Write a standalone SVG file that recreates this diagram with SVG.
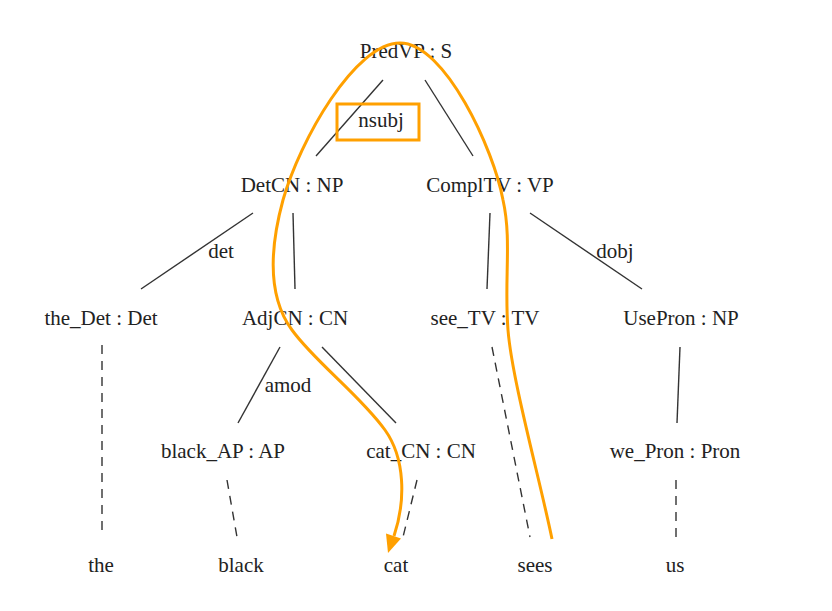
<svg xmlns="http://www.w3.org/2000/svg" width="832" height="611" viewBox="0 0 832 611">
<style>
text{font-family:"Liberation Serif","Times New Roman",serif;font-size:21px;fill:#222;text-anchor:middle}
.e{stroke:#333;stroke-width:1.4;fill:none}
.d{stroke:#333;stroke-width:1.4;fill:none;stroke-dasharray:9 7}
.o{stroke:#FFA000;stroke-width:3;fill:none}
</style>
<rect width="832" height="611" fill="#fff"/>
<g id="connectors">
<line class="e" x1="383" y1="80" x2="316" y2="156"/>
<line class="e" x1="425" y1="80" x2="473" y2="156"/>
<line class="e" x1="253" y1="213" x2="141" y2="289"/>
<line class="e" x1="293" y1="213" x2="295" y2="289"/>
<line class="e" x1="490" y1="213" x2="487" y2="289"/>
<line class="e" x1="530" y1="213" x2="642" y2="289"/>
<line class="e" x1="280" y1="347" x2="238" y2="423"/>
<line class="e" x1="322" y1="347" x2="396" y2="423"/>
<line class="e" x1="680" y1="347" x2="677" y2="423"/>
<line class="d" x1="102" y1="345" x2="102" y2="537"/>
<line class="d" x1="227" y1="480" x2="237" y2="537"/>
<line class="d" x1="417" y1="480" x2="403" y2="537"/>
<line class="d" x1="492" y1="347" x2="530" y2="537"/>
<line class="d" x1="676" y1="480" x2="676" y2="537"/>
<text x="381" y="127">nsubj</text>
<text x="221" y="258">det</text>
<text x="288" y="392">amod</text>
<text x="615" y="258">dobj</text>
</g>
<g id="n_PredVP"><text x="406" y="58">PredVP : S</text></g>
<g id="n_DetCN"><text x="292" y="192">DetCN : NP</text></g>
<g id="n_ComplTV"><text x="490" y="192">ComplTV : VP</text></g>
<g id="n_the_Det"><text x="101" y="325">the_Det : Det</text></g>
<g id="n_AdjCN"><text x="295" y="325">AdjCN : CN</text></g>
<g id="n_see_TV"><text x="485" y="325">see_TV : TV</text></g>
<g id="n_UsePron"><text x="681" y="325">UsePron : NP</text></g>
<g id="n_black_AP"><text x="223" y="458">black_AP : AP</text></g>
<g id="n_cat_CN"><text x="421" y="458">cat_CN : CN</text></g>
<g id="n_we_Pron"><text x="675" y="458">we_Pron : Pron</text></g>
<g id="n_the"><text x="101" y="572">the</text></g>
<g id="n_black"><text x="241" y="572">black</text></g>
<g id="n_cat"><text x="396" y="572">cat</text></g>
<g id="n_sees"><text x="535" y="572">sees</text></g>
<g id="n_us"><text x="675" y="572">us</text></g>
<g id="highlight">
<rect class="o" x="337" y="104" width="82" height="36"/>
<path class="o" d="M552,539 C540,480 512,380 508,330 C504,280 512,240 503,200 C494,150 445,43 400,43 C355,43 300,140 283,200 C268,255 270,300 292,330 C315,362 360,395 385,430 C405,458 406,500 394,536"/>
<polygon points="388,553 401,538.5 386,533.5" fill="#FFA000"/>
</g>
</svg>
